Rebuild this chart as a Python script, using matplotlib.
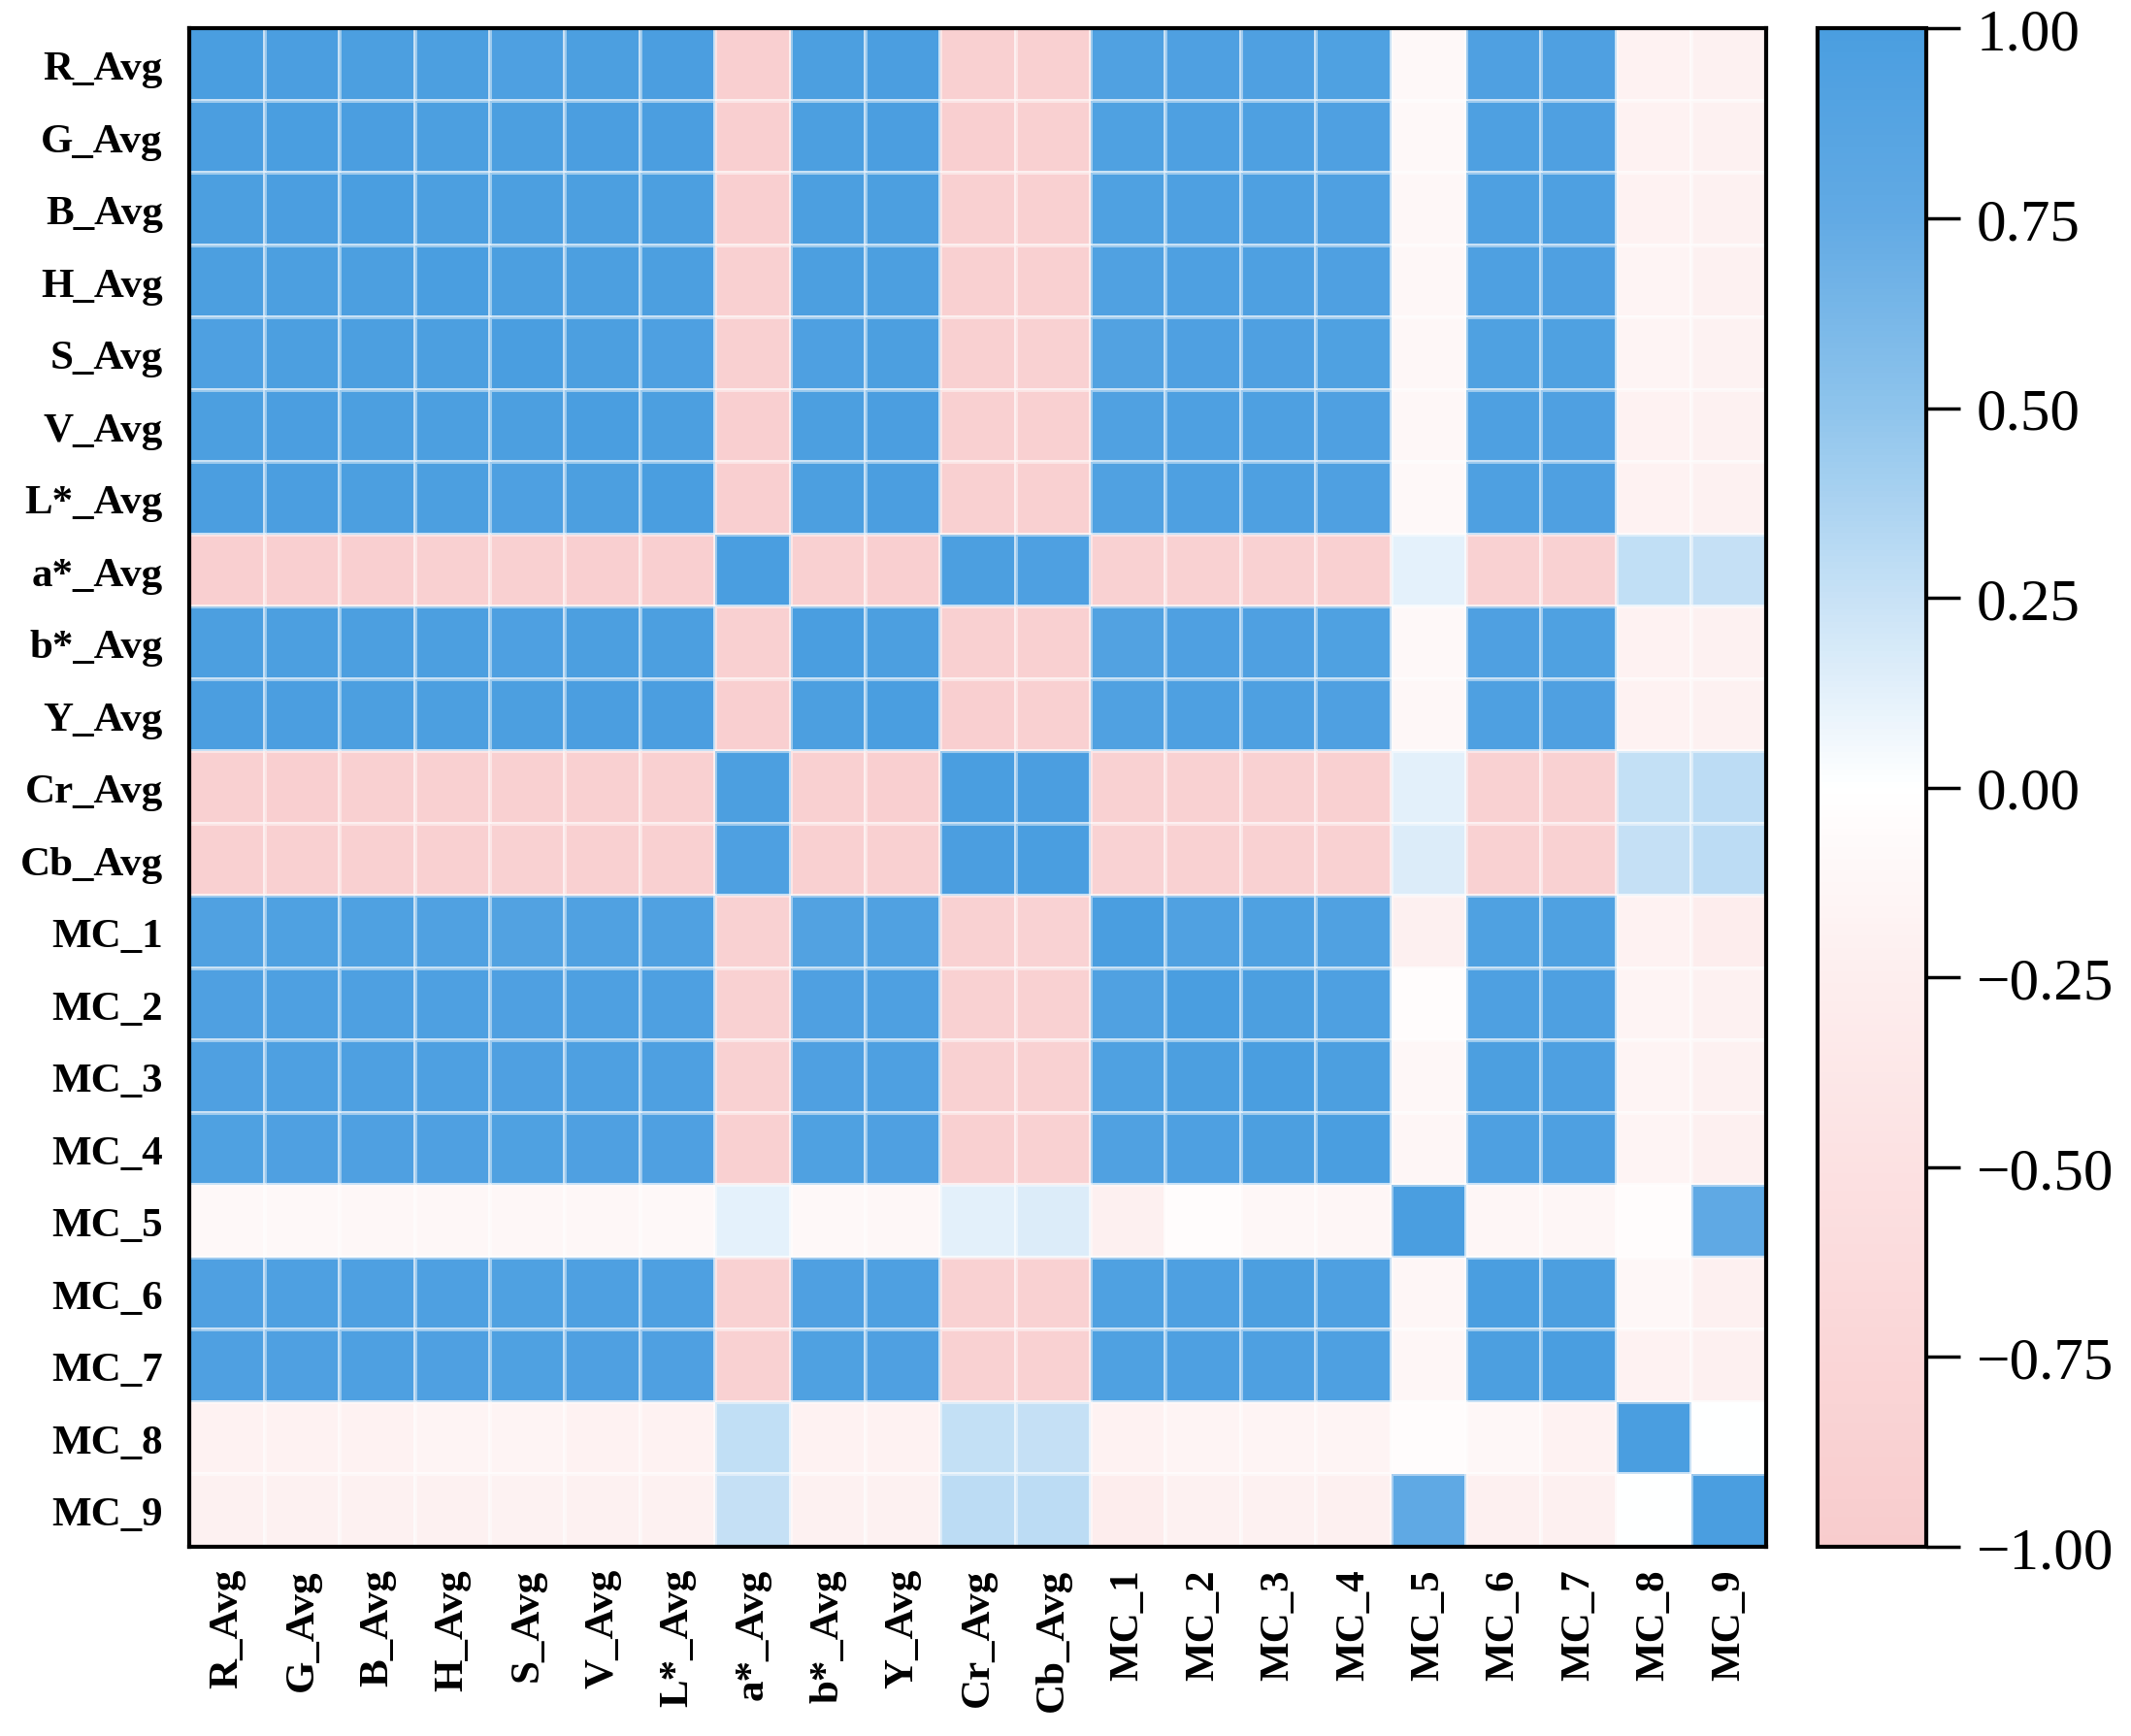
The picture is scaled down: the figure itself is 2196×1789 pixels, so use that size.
import numpy as np
import matplotlib
matplotlib.use('Agg')
import matplotlib.pyplot as plt
from matplotlib.colors import LinearSegmentedColormap
from matplotlib.ticker import FuncFormatter

labels = ['R_Avg', 'G_Avg', 'B_Avg', 'H_Avg', 'S_Avg', 'V_Avg', 'L*_Avg', 'a*_Avg',
          'b*_Avg', 'Y_Avg', 'Cr_Avg', 'Cb_Avg', 'MC_1', 'MC_2', 'MC_3', 'MC_4',
          'MC_5', 'MC_6', 'MC_7', 'MC_8', 'MC_9']

# correlation matrix (rows in label order)
corr = [
    [1.00, .99, .98, .97, .96, .98, .99, -.91, .97, .99, -.90, -.89, .93, .95, .95, .94, -.10, .95, .95, -.18, -.20],
    [.99, 1.00, .99, .98, .97, .99, .99, -.92, .98, .99, -.91, -.90, .94, .96, .96, .95, -.10, .96, .95, -.18, -.20],
    [.98, .99, 1.00, .98, .97, .98, .98, -.91, .97, .98, -.90, -.90, .94, .96, .96, .95, -.11, .96, .96, -.18, -.20],
    [.97, .98, .98, 1.00, .98, .98, .97, -.90, .97, .98, -.90, -.89, .93, .96, .96, .95, -.11, .96, .95, -.17, -.20],
    [.96, .97, .97, .98, 1.00, .97, .96, -.89, .96, .97, -.89, -.88, .91, .95, .95, .94, -.11, .94, .94, -.17, -.19],
    [.98, .99, .98, .98, .97, 1.00, .98, -.91, .97, .99, -.90, -.89, .93, .96, .96, .95, -.11, .96, .95, -.18, -.20],
    [.99, .99, .98, .97, .96, .98, 1.00, -.91, .98, .99, -.90, -.90, .93, .96, .96, .95, -.10, .96, .95, -.18, -.20],
    [-.91, -.92, -.91, -.90, -.89, -.91, -.91, 1.00, -.90, -.91, .97, .96, -.86, -.88, -.88, -.89, .12, -.88, -.87, .28, .26],
    [.97, .98, .97, .97, .96, .97, .98, -.90, 1.00, .98, -.90, -.89, .92, .95, .95, .94, -.10, .95, .94, -.18, -.20],
    [.99, .99, .98, .98, .97, .99, .99, -.91, .98, 1.00, -.91, -.90, .93, .96, .96, .95, -.11, .96, .95, -.18, -.20],
    [-.90, -.91, -.90, -.90, -.89, -.90, -.90, .97, -.90, -.91, 1.00, .99, -.86, -.88, -.88, -.89, .13, -.88, -.87, .27, .30],
    [-.89, -.90, -.90, -.89, -.88, -.89, -.90, .96, -.89, -.90, .99, 1.00, -.85, -.87, -.88, -.88, .16, -.87, -.87, .26, .30],
    [.93, .94, .94, .93, .91, .93, .93, -.86, .92, .93, -.86, -.85, 1.00, .93, .94, .93, -.22, .94, .94, -.18, -.28],
    [.95, .96, .96, .96, .95, .96, .96, -.88, .95, .96, -.88, -.87, .93, 1.00, .97, .96, -.05, .96, .96, -.16, -.20],
    [.95, .96, .96, .96, .95, .96, .96, -.88, .95, .96, -.88, -.88, .94, .97, 1.00, .97, -.12, .97, .96, -.17, -.20],
    [.94, .95, .95, .95, .94, .95, .95, -.89, .94, .95, -.89, -.88, .93, .96, .97, 1.00, -.14, .96, .96, -.17, -.22],
    [-.10, -.10, -.11, -.11, -.11, -.11, -.10, .12, -.10, -.11, .13, .16, -.22, -.05, -.12, -.14, 1.00, -.14, -.14, -.05, .78],
    [.95, .96, .96, .96, .94, .96, .96, -.88, .95, .96, -.88, -.87, .94, .96, .97, .96, -.14, 1.00, .97, -.12, -.22],
    [.95, .95, .96, .95, .94, .95, .95, -.87, .94, .95, -.87, -.87, .94, .96, .96, .96, -.14, .97, 1.00, -.18, -.22],
    [-.18, -.18, -.18, -.17, -.17, -.18, -.18, .28, -.18, -.18, .27, .26, -.18, -.16, -.17, -.17, -.05, -.12, -.18, 1.00, 0.00],
    [-.20, -.20, -.20, -.20, -.19, -.20, -.20, .26, -.20, -.20, .30, .30, -.28, -.20, -.20, -.22, .78, -.22, -.22, 0.00, 1.00],
]

cbar_ticks = [-1.0, -0.75, -0.5, -0.25, 0.0, 0.25, 0.5, 0.75, 1.0]

cmap = LinearSegmentedColormap.from_list('pinkblue', [
    (0.0, '#f8cccd'), (0.125, '#fad6d7'), (0.25, '#fce1e2'), (0.375, '#fdeeee'),
    (0.5, '#ffffff'), (0.625, '#c8e2f6'), (0.75, '#8ec4ec'), (0.875, '#62aae4'),
    (1.0, '#4a9ee0')])

plt.rcParams['font.family'] = ['Liberation Serif', 'DejaVu Serif']

fig = plt.figure(figsize=(21.96, 17.9), dpi=100)
ax = fig.add_axes([0.089, 0.109, 0.740, 0.874])
cax = fig.add_axes([0.853, 0.109, 0.051, 0.874])

data = np.array(corr)
n = len(labels)
mesh = ax.pcolormesh(data, cmap=cmap, vmin=-1, vmax=1,
                     edgecolors=(1, 1, 1, 0.45), linewidth=1.5)
ax.set_xlim(0, n)
ax.set_ylim(n, 0)
ax.set_xticks(np.arange(n) + 0.5)
ax.set_yticks(np.arange(n) + 0.5)
ax.set_xticklabels(labels, rotation=90, fontsize=31, fontweight='bold')
ax.set_yticklabels(labels, fontsize=31, fontweight='bold')
ax.tick_params(axis='y', length=0, pad=20)
ax.tick_params(axis='x', length=0, pad=16)
for sp in ax.spines.values():
    sp.set_linewidth(3)
    sp.set_color('black')

cb = fig.colorbar(mesh, cax=cax, ticks=cbar_ticks)
cb.outline.set_linewidth(3)
cb.ax.yaxis.set_major_formatter(FuncFormatter(lambda v, p: f'{v:.2f}'.replace('-', '\u2212')))
cb.ax.tick_params(labelsize=44, length=25, width=2.5, pad=12)

fig.savefig('out.png', dpi=100)
